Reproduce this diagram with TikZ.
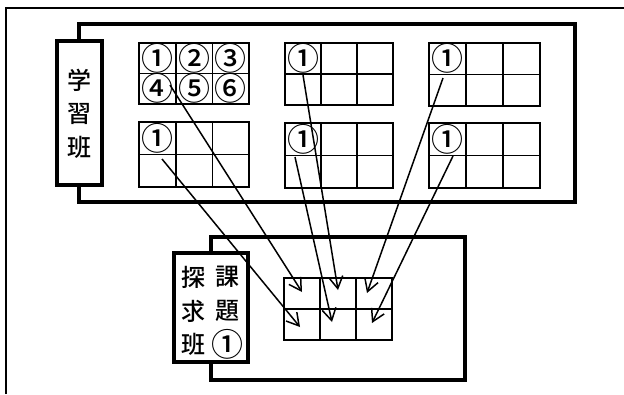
\documentclass[tikz,border=0pt]{standalone}
\usepackage{fontspec}
\setmainfont{Noto Sans CJK JP}
\newfontfamily\kfont{Noto Sans CJK JP Medium}
\usetikzlibrary{arrows.meta}
\newcommand\cellgrid[5]{%
  \foreach \r in {0,1}{\foreach \c in {0,1,2}{%
    \node[cell, minimum width=#4, minimum height=#5, anchor=north west]
      (#1-\r\c) at ({#2+\c*#4},{#3+\r*#5}) {};}}}
\begin{document}
\begin{tikzpicture}[x=1pt,y=-1pt,
  frame/.style={line width=1.5pt},
  bigbox/.style={line width=3.2pt},
  labelbox/.style={draw,line width=3.2pt,fill=white,inner sep=0pt},
  cell/.style={draw,line width=1.8pt,inner sep=0pt,outer sep=0pt},
  circ/.style={font=\kfont\fontsize{32}{32}\selectfont,inner sep=0pt},
  kanji/.style={font=\kfont\fontsize{24}{24}\selectfont,inner sep=0pt},
  link/.style={line width=1.5pt,-{Straight Barb[length=12pt,width=14pt,line width=1.5pt]}}]
\useasboundingbox (0,0) rectangle (624,394);
% outer frame (only top and left visible)
\draw[frame] (6,394) -- (6,8) -- (624,8);
% upper group box
\draw[bigbox] (79,24) rectangle (575,202);
\node[labelbox, minimum width=45, minimum height=144] (lab1) at (79.5,113) {};
\node[kanji] (k1) at (79.5,80) {学};
\node[kanji] (k2) at (79.5,113.5) {習};
\node[kanji] (k3) at (79.5,147) {班};
% grids
\cellgrid{ga}{139}{43}{36.7}{30.5}
\cellgrid{gb}{139}{122}{36.7}{32.5}
\cellgrid{gc}{285}{43}{36}{31}
\cellgrid{gd}{285}{123}{36}{32.5}
\cellgrid{ge}{429}{43}{37}{31.5}
\cellgrid{gf}{429}{123}{37}{32.5}
% circled numbers
\node[circ] (a1) at (ga-00) {①};
\node[circ] (a2) at (ga-01) {②};
\node[circ] (a3) at (ga-02) {③};
\node[circ] (a4) at (ga-10) {④};
\node[circ] (a5) at (ga-11) {⑤};
\node[circ] (a6) at (ga-12) {⑥};
\node[circ] (b1) at (gb-00) {①};
\node[circ] (c1) at (gc-00) {①};
\node[circ] (d1) at (gd-00) {①};
\node[circ] (e1) at (ge-00) {①};
\node[circ] (f1) at (gf-00) {①};
% lower group box
\draw[bigbox] (211,237) rectangle (465,380);
\node[labelbox, minimum width=74, minimum height=109] (lab2) at (211,307.5) {};
\node[kanji] (t1) at (193,277) {探};
\node[kanji] (t2) at (227,277) {課};
\node[kanji] (t3) at (193,311) {求};
\node[kanji] (t4) at (227,311) {題};
\node[kanji] (t5) at (193,344) {班};
\node[circ] (t6) at (227,344) {①};
\cellgrid{gt}{284}{278}{36}{31}
% connectors
\coordinate (s1) at (170,85);  \coordinate (z1) at (302,292);
\coordinate (s2) at (162,159); \coordinate (z2) at (300,327);
\coordinate (s3) at (303,75);  \coordinate (z3) at (338,290);
\coordinate (s4) at (295,157); \coordinate (z4) at (332,322);
\coordinate (s5) at (443,78);  \coordinate (z5) at (367,293);
\coordinate (s6) at (453,156); \coordinate (z6) at (372,323);
\foreach \i in {1,...,6}{\draw[link] (s\i) -- (z\i);}
\end{tikzpicture}
\end{document}
